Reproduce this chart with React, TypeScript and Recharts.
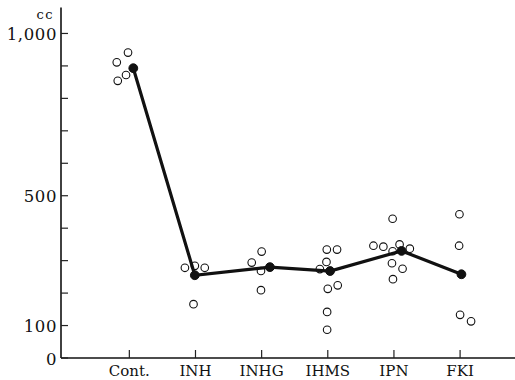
import React from "react";
import { ScatterChart, Scatter, XAxis, YAxis } from "recharts";

const categories = ["Cont.", "INH", "INHG", "IHMS", "IPN", "FKI"];
const yTicks = [0, 100, 200, 300, 400, 500, 600, 700, 800, 900, 1000];
const yLabels: Record<number, string> = { 0: "0", 100: "100", 500: "500", 1000: "1,000" };

// individual values (open circles): category index + horizontal offset, value in cc
const contPoints = [
  { x: -0.02, y: 941 },
  { x: -0.19, y: 911 },
  { x: -0.05, y: 872 },
  { x: -0.175, y: 854 },
];
const inhPoints = [
  { x: 1 - 0.16, y: 278 },
  { x: 1 - 0.01, y: 284 },
  { x: 1 + 0.14, y: 278 },
  { x: 1 - 0.03, y: 166 },
];
const inhgPoints = [
  { x: 2 - 0.15, y: 294 },
  { x: 2 + 0.0, y: 328 },
  { x: 2 - 0.01, y: 268 },
  { x: 2 - 0.01, y: 209 },
];
const ihmsPoints = [
  { x: 3 - 0.12, y: 274 },
  { x: 3 - 0.015, y: 334 },
  { x: 3 + 0.14, y: 334 },
  { x: 3 - 0.02, y: 296 },
  { x: 3 + 0.0, y: 213 },
  { x: 3 + 0.15, y: 224 },
  { x: 3 - 0.01, y: 142 },
  { x: 3 - 0.01, y: 87 },
];
const ipnPoints = [
  { x: 4 - 0.02, y: 429 },
  { x: 4 - 0.31, y: 346 },
  { x: 4 - 0.16, y: 343 },
  { x: 4 + 0.085, y: 350 },
  { x: 4 + 0.24, y: 337 },
  { x: 4 - 0.02, y: 329 },
  { x: 4 - 0.03, y: 292 },
  { x: 4 + 0.13, y: 275 },
  { x: 4 - 0.015, y: 243 },
];
const fkiPoints = [
  { x: 5 - 0.01, y: 443 },
  { x: 5 - 0.015, y: 346 },
  { x: 5 + 0.0, y: 133 },
  { x: 5 + 0.166, y: 113 },
];
const individuals = [
  ...contPoints,
  ...inhPoints,
  ...inhgPoints,
  ...ihmsPoints,
  ...ipnPoints,
  ...fkiPoints,
];

// means (filled circles, joined by thick line)
const means = [
  { x: 0.06, y: 893 },
  { x: 0.99, y: 255 },
  { x: 2.125, y: 280 },
  { x: 3.035, y: 268 },
  { x: 4.115, y: 330 },
  { x: 5.02, y: 258 },
];

const FONT = "'DejaVu Serif', 'Liberation Serif', serif";

const OpenCircle = (props: any) => (
  <circle cx={props.cx} cy={props.cy} r={3.8} fill="#fff" stroke="#111" strokeWidth={1.1} />
);
const FilledCircle = (props: any) => (
  <circle cx={props.cx} cy={props.cy} r={4.4} fill="#111" stroke="#111" strokeWidth={1} />
);

const YTick = (props: any) => {
  const { x, y, payload } = props;
  const v = payload.value;
  const label = yLabels[v];
  return (
    <g>
      <line x1={x} x2={x + 7} y1={y} y2={y} stroke="#222" strokeWidth={1.2} />
      {label !== undefined && (
        <text x={x - 4} y={y + 6.5} textAnchor="end" fontFamily={FONT} fontSize={16.5} letterSpacing={0.6} fill="#111">
          {label}
        </text>
      )}
      {v === 1000 && (
        <text x={x - 7} y={y - 14} textAnchor="end" fontFamily={FONT} fontSize={13} letterSpacing={1.5} fill="#111">
          cc
        </text>
      )}
    </g>
  );
};

const XTick = (props: any) => {
  const { x, y, payload } = props;
  return (
    <g>
      <line x1={x} x2={x} y1={y} y2={y - 8} stroke="#222" strokeWidth={1.2} />
      <text x={x} y={y + 18} textAnchor="middle" fontFamily={FONT} fontSize={15} fill="#111">
        {categories[payload.value]}
      </text>
    </g>
  );
};

export default function App() {
  return (
    <div style={{ position: "absolute", left: 0, top: 0, background: "#fff" }}>
      <ScatterChart
        width={515}
        height={380}
        margin={{ top: 7.5, right: 0, bottom: 0, left: 0 }}
      >
        <XAxis
          type="number"
          dataKey="x"
          domain={[-1.033, 5.83]}
          ticks={[0, 1, 2, 3, 4, 5]}
          allowDataOverflow
          height={22}
          tickSize={0}
          tickMargin={0}
          tickLine={false}
          axisLine={{ stroke: "#111", strokeWidth: 1.6 }}
          tick={<XTick />}
          interval={0}
        />
        <YAxis
          type="number"
          dataKey="y"
          domain={[0, 1080]}
          ticks={yTicks}
          allowDataOverflow
          width={61}
          tickSize={0}
          tickMargin={0}
          tickLine={false}
          axisLine={{ stroke: "#111", strokeWidth: 1.6 }}
          tick={<YTick />}
          interval={0}
        />
        <Scatter
          data={individuals}
          shape={<OpenCircle />}
          isAnimationActive={false}
        />
        <Scatter
          data={means}
          shape={<FilledCircle />}
          line={{ stroke: "#111", strokeWidth: 3.2 }}
          lineType="joint"
          isAnimationActive={false}
        />
      </ScatterChart>
    </div>
  );
}
